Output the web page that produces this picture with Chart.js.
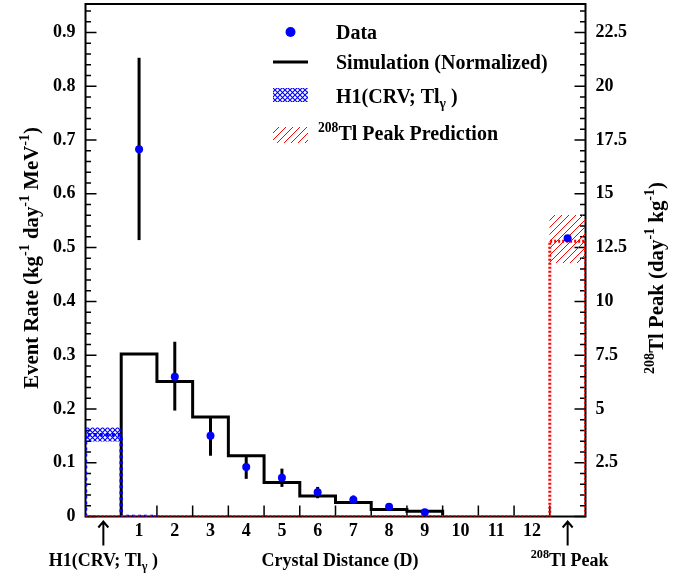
<!DOCTYPE html>
<html><head><meta charset="utf-8">
<script src="https://cdn.jsdelivr.net/npm/chart.js@4.4.1/dist/chart.umd.min.js"></script>
<style>html,body{margin:0;padding:0;background:#fff;}#wrap{width:683px;height:577px;}</style>
</head><body><div id="wrap"><canvas id="c" width="683" height="577"></canvas></div>
<script>
// ---------------- data ----------------
const distances = [1, 2, 3, 4, 5, 6, 7, 8, 9];
const dataRate = [0.683, 0.260, 0.150, 0.092, 0.072, 0.045, 0.031, 0.018, 0.008];
const dataErrHigh = [0.853, 0.325, 0.186, 0.113, 0.089, 0.055, 0.039, 0.022, 0.011];
const dataErrLow = [0.514, 0.197, 0.113, 0.070, 0.055, 0.034, 0.024, 0.014, 0.005];
const simRate = [0.302, 0.251, 0.185, 0.113, 0.063, 0.038, 0.026, 0.013, 0.0096];
const h1Bins = [0, 1];
const h1Rate = [0.152, 0];
const h1Band = [0.140, 0.165];
const tlBins = [0, 1, 2, 3, 4, 5, 6, 7, 8, 9, 10, 11, 12, 13];
const tlPeakPred = [0, 0, 0, 0, 0, 0, 0, 0, 0, 0, 0, 0, 0, 12.8];
const tlBand = [11.8, 14.0];
const tlDataPos = 13;
const tlDataValue = 12.94;
const h1Pos = 0;
const xTickValues = [1, 2, 3, 4, 5, 6, 7, 8, 9, 10, 11, 12];
const yTickValues = [0, 0.1, 0.2, 0.3, 0.4, 0.5, 0.6, 0.7, 0.8, 0.9];
const y2TickValues = [2.5, 5, 7.5, 10, 12.5, 15, 17.5, 20, 22.5];
const xRange = [-0.5, 13.5];
const yMax = 0.953;
const y2Max = 23.825;

// ---------------- helpers ----------------
const FONT = "'Liberation Serif', 'Times New Roman', serif";
function histPoints(centers, values) {
  const pts = [{x: centers[0] - 0.5, y: 0}];
  centers.forEach((c, i) => { pts.push({x: c - 0.5, y: values[i]}); pts.push({x: c + 0.5, y: values[i]}); });
  pts.push({x: centers[centers.length - 1] + 0.5, y: 0});
  return pts;
}
function makePattern(kind) {
  const p = document.createElement('canvas');
  const g = p.getContext('2d');
  if (kind === 'blue') {
    p.width = 5; p.height = 5;
    g.strokeStyle = '#0000ff'; g.lineWidth = 1.1;
    g.beginPath(); g.moveTo(0, 0); g.lineTo(5, 5); g.moveTo(5, 0); g.lineTo(0, 5); g.stroke();
  } else {
    p.width = 7; p.height = 7;
    g.strokeStyle = '#ff0000'; g.lineWidth = 1;
    g.beginPath(); g.moveTo(-1, 8); g.lineTo(8, -1); g.moveTo(-1, 1); g.lineTo(1, -1); g.moveTo(6, 8); g.lineTo(8, 6); g.stroke();
  }
  return document.getElementById('c').getContext('2d').createPattern(p, 'repeat');
}
const bluePat = makePattern('blue');
const redPat = makePattern('red');

function richWidth(ctx, parts, size) {
  let w = 0;
  parts.forEach(([t, m]) => { ctx.font = 'bold ' + (m ? size * 0.68 : size) + 'px ' + FONT; w += ctx.measureText(t).width; });
  return w;
}
function drawRich(ctx, parts, x, y, size, align) {
  const w = richWidth(ctx, parts, size);
  let cx = align === 'center' ? x - w / 2 : (align === 'right' ? x - w : x);
  ctx.textAlign = 'left'; ctx.textBaseline = 'alphabetic'; ctx.fillStyle = '#000';
  parts.forEach(([t, m]) => {
    const s = m ? size * 0.68 : size;
    ctx.font = 'bold ' + s + 'px ' + FONT;
    const dy = m === 'sup' ? -size * 0.42 : (m === 'sub' ? size * 0.25 : 0);
    ctx.fillText(t, cx, y + dy);
    cx += ctx.measureText(t).width;
  });
}

// ---------------- decoration plugin ----------------
const decor = {
  id: 'decor',
  beforeDatasetsDraw(chart) {
    const {ctx, chartArea: a, scales: {x, y, y2}} = chart;
    ctx.save();
    ctx.strokeStyle = '#000'; ctx.lineWidth = 1.5;
    ctx.beginPath();
    for (let k = 0; k * 0.02 <= yMax + 1e-9; k++) {
      const py = y.getPixelForValue(k * 0.02);
      const len = k % 5 === 0 ? 11 : 5.5;
      ctx.moveTo(a.left, py); ctx.lineTo(a.left + len, py);
    }
    for (let k = 0; k * 0.5 <= y2Max + 1e-9; k++) {
      const py = y2.getPixelForValue(k * 0.5);
      const len = k % 5 === 0 ? 11 : 5.5;
      ctx.moveTo(a.right, py); ctx.lineTo(a.right - len, py);
    }
    xTickValues.forEach(v => {
      const px = x.getPixelForValue(v + 0.5);
      ctx.moveTo(px, a.bottom); ctx.lineTo(px, a.bottom - 11);
    });
    ctx.stroke();
    ctx.lineWidth = 2;
    ctx.strokeRect(a.left, a.top, a.right - a.left, a.bottom - a.top);
    ctx.restore();
  },
  beforeDatasetDraw(chart, args) {
    if (args.meta.label !== 'Data') return;
    const {ctx, scales: {x, y}} = chart;
    ctx.save(); ctx.strokeStyle = '#000'; ctx.lineWidth = 3;
    distances.forEach((d, i) => {
      ctx.beginPath();
      ctx.moveTo(x.getPixelForValue(d), y.getPixelForValue(dataErrHigh[i]));
      ctx.lineTo(x.getPixelForValue(d), y.getPixelForValue(dataErrLow[i]));
      ctx.stroke();
    });
    ctx.restore();
  },
  afterDraw(chart) {
    const {ctx, chartArea: a, scales: {x}} = chart;
    ctx.save();
    ctx.strokeStyle = '#000'; ctx.lineWidth = 2;
    // arrows
    [h1Pos, tlDataPos].forEach(v => {
      const px = x.getPixelForValue(v);
      ctx.beginPath();
      ctx.moveTo(px, a.bottom + 29); ctx.lineTo(px, a.bottom + 5);
      ctx.moveTo(px - 5, a.bottom + 11); ctx.lineTo(px, a.bottom + 5); ctx.lineTo(px + 5, a.bottom + 11);
      ctx.stroke();
    });
    // bottom texts
    drawRich(ctx, [['H1(CRV; Tl'], ['\u03b3', 'sub'], [' )']], x.getPixelForValue(h1Pos), a.bottom + 49, 18, 'center');
    drawRich(ctx, [['208', 'sup'], ['Tl Peak']], x.getPixelForValue(tlDataPos) + 2, a.bottom + 49, 18, 'center');
    drawRich(ctx, [['Crystal Distance (D)']], 340, a.bottom + 49, 18, 'center');
    // axis titles
    ctx.save(); ctx.translate(38, 258); ctx.rotate(-Math.PI / 2);
    drawRich(ctx, [['Event Rate (kg'], ['-1', 'sup'], [' day'], ['-1', 'sup'], [' MeV'], ['-1', 'sup'], [')']], 0, 0, 20.8, 'center');
    ctx.restore();
    ctx.save(); ctx.translate(663, 278); ctx.rotate(-Math.PI / 2);
    drawRich(ctx, [['208', 'sup'], ['Tl Peak (day'], ['-1', 'sup'], [' kg'], ['-1', 'sup'], [')']], 0, 0, 20.8, 'center');
    ctx.restore();
    // legend
    ctx.fillStyle = '#0000ff';
    ctx.beginPath(); ctx.arc(290.5, 32, 5, 0, Math.PI * 2); ctx.fill();
    ctx.strokeStyle = '#000'; ctx.lineWidth = 3;
    ctx.beginPath(); ctx.moveTo(273, 62); ctx.lineTo(308, 62); ctx.stroke();
    ctx.fillStyle = bluePat; ctx.fillRect(273, 88, 35, 14);
    ctx.fillStyle = redPat; ctx.fillRect(273, 127, 35, 16);
    drawRich(ctx, [['Data']], 336, 38.5, 20, 'left');
    drawRich(ctx, [['Simulation (Normalized)']], 336, 68.5, 20, 'left');
    drawRich(ctx, [['H1(CRV; Tl'], ['\u03b3', 'sub'], [' )']], 336, 103, 20, 'left');
    drawRich(ctx, [['208', 'sup'], ['Tl Peak Prediction']], 318, 140, 20, 'left');
    ctx.restore();
  }
};

const tickFont = {family: FONT, size: 18, weight: 'bold'};
const noPad = s => { s.paddingTop = 0; s.paddingBottom = 0; s.paddingLeft = 0; s.paddingRight = 0; };
const noGrid = {display: false, drawTicks: false, tickLength: 0, offset: false};
new Chart(document.getElementById('c'), {
  type: 'line',
  data: {
    datasets: [
      {label: 'Simulation', data: histPoints(distances, simRate), yAxisID: 'y', borderColor: '#000', borderWidth: 3, pointRadius: 0, fill: false, order: 7},
      {label: 'H1 hist', data: histPoints(h1Bins, h1Rate), yAxisID: 'y', borderColor: '#0000ff', borderWidth: 3.5, borderDash: [3, 3], pointRadius: 0, fill: false, order: 6},
      {type: 'bar', label: 'H1 band', data: [{x: h1Pos, y: h1Band}], yAxisID: 'y', backgroundColor: bluePat, borderWidth: 0, grouped: false, barPercentage: 1, categoryPercentage: 1, order: 5},
      {label: 'Tl hist', data: histPoints(tlBins, tlPeakPred), yAxisID: 'y2', borderColor: '#ff0000', borderWidth: 3, borderDash: [2, 2], pointRadius: 0, fill: false, order: 4},
      {type: 'bar', label: 'Tl band', data: [{x: tlDataPos, y: tlBand}], yAxisID: 'y2', backgroundColor: redPat, borderWidth: 0, grouped: false, barPercentage: 1, categoryPercentage: 1, order: 3},
      {label: 'Data', data: distances.map((d, i) => ({x: d, y: dataRate[i]})), yAxisID: 'y', showLine: false, pointRadius: 4, pointBackgroundColor: '#0000ff', pointBorderWidth: 0, order: 1},
      {label: 'Tl data', data: [{x: tlDataPos, y: tlDataValue}], yAxisID: 'y2', showLine: false, pointRadius: 4, pointBackgroundColor: '#0000ff', pointBorderWidth: 0, order: 0}
    ]
  },
  options: {
    responsive: false, animation: false, devicePixelRatio: 1,
    layout: {padding: {top: 1, left: 0, right: 0, bottom: 0}},
    plugins: {legend: {display: false}, tooltip: {enabled: false}},
    elements: {line: {tension: 0}},
    scales: {
      x: {type: 'linear', offset: false, min: xRange[0], max: xRange[1], grid: noGrid, border: {display: false},
          afterBuildTicks: s => { s.ticks = xTickValues.map(v => ({value: v})); },
          ticks: {font: tickFont, color: '#000', padding: 4, maxRotation: 0, autoSkip: false, callback: v => String(v)},
          afterFit: s => { s.height = 60.5; noPad(s); }},
      y: {type: 'linear', position: 'left', min: 0, max: yMax, grid: noGrid, border: {display: false},
          afterBuildTicks: s => { s.ticks = yTickValues.map(v => ({value: v})); },
          ticks: {font: tickFont, color: '#000', padding: 10, callback: v => v === 0 ? '0' : v.toFixed(1)},
          afterFit: s => { s.width = 85.5; noPad(s); }},
      y2: {type: 'linear', position: 'right', min: 0, max: y2Max, grid: noGrid, border: {display: false},
          afterBuildTicks: s => { s.ticks = y2TickValues.map(v => ({value: v})); },
          ticks: {font: tickFont, color: '#000', padding: 10, callback: v => String(v)},
          afterFit: s => { s.width = 97.5; noPad(s); }}
    }
  },
  plugins: [decor]
});
</script></body></html>
